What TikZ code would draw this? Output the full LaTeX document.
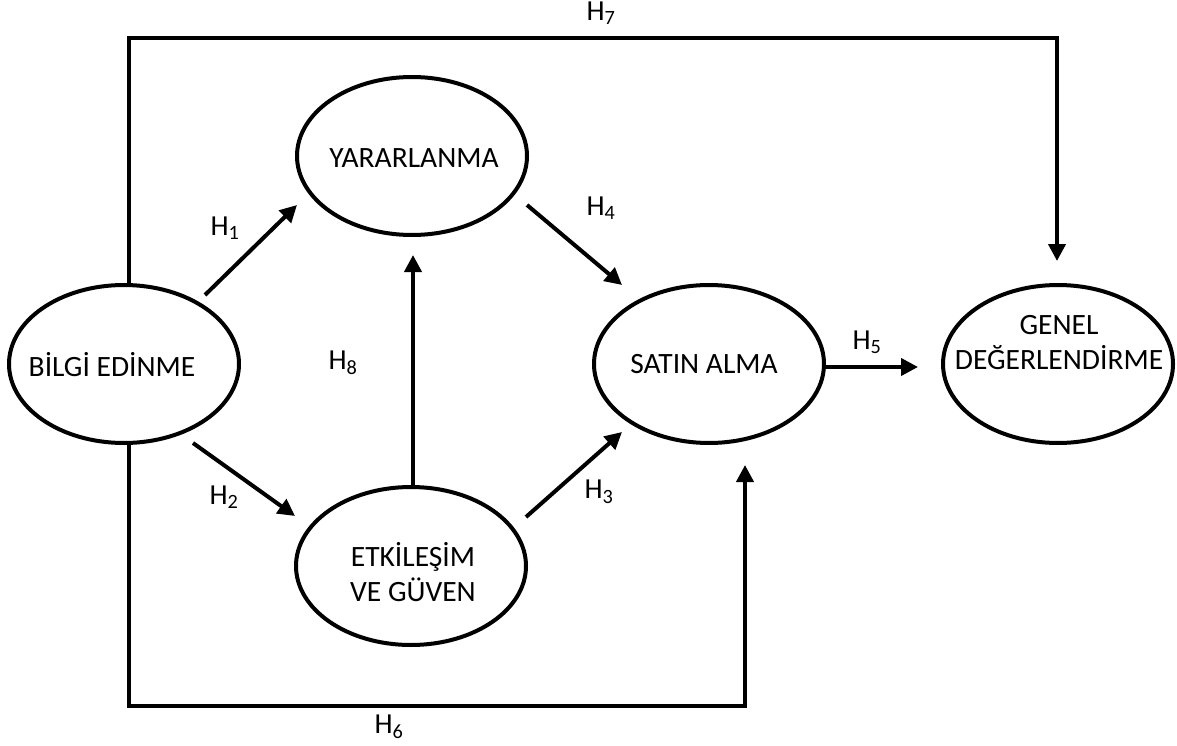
\documentclass[tikz,border=0pt]{standalone}
\usepackage{fontspec}
\setmainfont{Carlito}
\usetikzlibrary{shapes.geometric,arrows.meta,calc}
\begin{document}
\begin{tikzpicture}[x=1pt,y=-1pt,
  ell/.style={draw,line width=4pt,ellipse,minimum width=230pt,minimum height=158pt,inner sep=0pt},
  txt/.style={font=\fontsize{29.5}{35}\selectfont,align=center,inner sep=0pt},
  hlab/.style={font=\fontsize{29}{34}\selectfont,inner sep=0pt},
  conn/.style={line width=4pt},
  arr/.style={conn,-{Triangle[length=17pt,width=17pt]}}]
\useasboundingbox (0,0) rectangle (1177,746);
% ellipses
\node[ell] (bilgi) at (124,364) {};
\node[ell] (yarar) at (412,156) {};
\node[ell] (etki) at (411,566) {};
\node[ell] (satin) at (709,364) {};
\node[ell] (genel) at (1058,364) {};
% texts
\node[txt] (tbilgi) at (112,365) {BİLGİ EDİNME};
\node[txt] (tyarar) at (414,158) {YARARLANMA};
\node[txt] (tetki) at (413,572) {ETKİLEŞİM\\VE GÜVEN};
\node[txt] (tsatin) at (704,364) {SATIN ALMA};
\node[txt] (tgenel) at (1059,343) {GENEL\\DEĞERLENDİRME};
% connector ends
\coordinate (h1s) at ($(bilgi.center)+(81,-69)$);
\coordinate (h1e) at ($(yarar.center)+(-115,49)$);
\coordinate (h2s) at ($(bilgi.center)+(69,79)$);
\coordinate (h2e) at ($(etki.center)+(-116,-50)$);
\coordinate (h8s) at ($(etki.north)+(2,0)$);
\coordinate (h8e) at ($(yarar.south)+(1,18)$);
\coordinate (h4s) at ($(yarar.center)+(115,49)$);
\coordinate (h4e) at ($(satin.center)+(-87,-79)$);
\coordinate (h3s) at ($(etki.center)+(115,-49)$);
\coordinate (h3e) at ($(satin.center)+(-87,68)$);
\coordinate (h5e) at ($(genel.west)+(-23,3)$);
\coordinate (h7a) at (129,38);
\coordinate (h7b) at (1057,38);
\coordinate (h7e) at ($(genel.north)+(-1,-22)$);
\coordinate (h6a) at (129,706);
\coordinate (h6b) at (745,706);
\coordinate (h6e) at ($(satin.south)+(36,20)$);
% connectors
\draw[arr] (h1s) -- (h1e);
\draw[arr] (h2s) -- (h2e);
\draw[arr] (h8s) -- (h8e);
\draw[arr] (h4s) -- (h4e);
\draw[arr] (h3s) -- (h3e);
\draw[arr] ($(satin.east)+(0,3)$) -- (h5e);
\draw[arr] ($(bilgi.north)+(5,0)$) -- (h7a) -- (h7b) -- (h7e);
\draw[arr] ($(bilgi.south)+(5,0)$) -- (h6a) -- (h6b) -- (h6e);
% labels
\node[hlab] (l1) at (225,228) {H\textsubscript{1}};
\node[hlab] (l2) at (224,497) {H\textsubscript{2}};
\node[hlab] (l3) at (599,492) {H\textsubscript{3}};
\node[hlab] (l4) at (601,208) {H\textsubscript{4}};
\node[hlab] (l5) at (867,342) {H\textsubscript{5}};
\node[hlab] (l6) at (389,727) {H\textsubscript{6}};
\node[hlab] (l7) at (601,13) {H\textsubscript{7}};
\node[hlab] (l8) at (343,363) {H\textsubscript{8}};
\end{tikzpicture}
\end{document}
